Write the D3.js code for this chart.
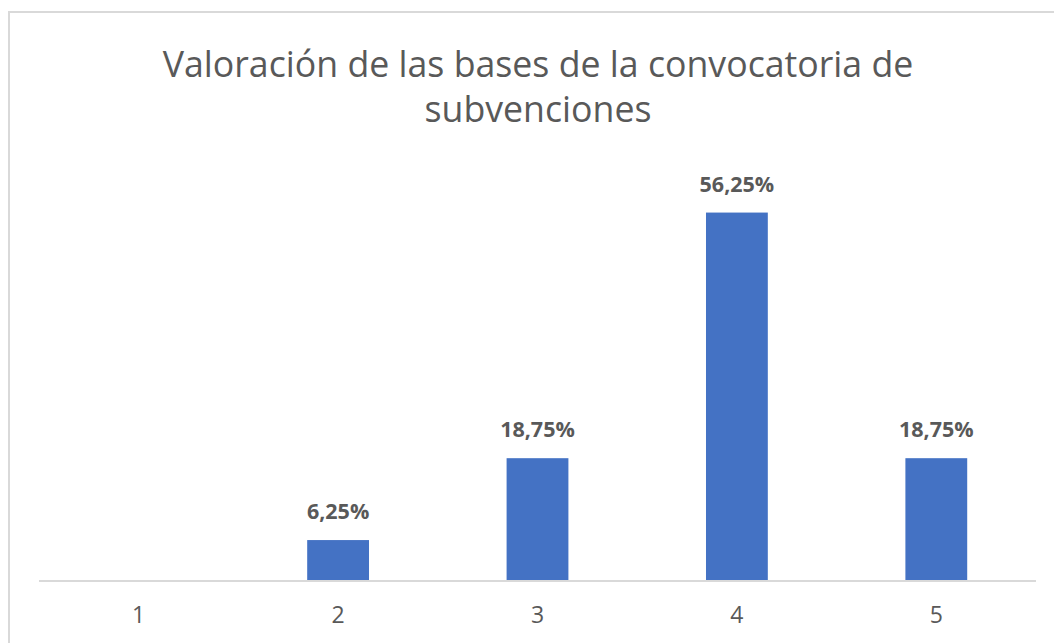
<!DOCTYPE html>
<html><head><meta charset="utf-8">
<script src="https://cdn.jsdelivr.net/npm/d3@7"></script>
<style>body{margin:0;background:#fff;}svg{display:block;}</style>
</head><body>
<svg id="chart" width="1054" height="643"></svg>
<script>
const categories = ["1","2","3","4","5"];
const values = [0, 6.25, 18.75, 56.25, 18.75];
const labels = ["", "6,25%", "18,75%", "56,25%", "18,75%"];
const titleLines = ["Valoración de las bases de la convocatoria de", "subvenciones"];

const svg = d3.select("#chart");
svg.append("rect").attr("x",9).attr("y",12).attr("width",1100).attr("height",700)
  .attr("fill","#fff").attr("stroke","#d9d9d9").attr("stroke-width",2);

const x = d3.scaleBand().domain(categories).range([39,1036]).paddingInner(0.69).paddingOuter(0.345);
const y = d3.scaleLinear().domain([0,60]).range([581,188]);

svg.selectAll(".title").data(titleLines).enter().append("text")
  .attr("x",538).attr("y",(d,i)=>77+i*45).attr("text-anchor","middle")
  .attr("font-family","Open Sans").attr("font-size",35.7).attr("fill","#595959").text(d=>d);

svg.selectAll(".bar").data(values).enter().append("rect")
  .attr("x",(d,i)=>x(categories[i])).attr("width",x.bandwidth())
  .attr("y",d=>y(d)).attr("height",d=>y(0)-y(d)).attr("fill","#4472C4");

svg.selectAll(".lbl").data(values).enter().append("text")
  .attr("x",(d,i)=>x(categories[i])+x.bandwidth()/2).attr("y",d=>y(d)-21)
  .attr("text-anchor","middle").attr("font-family","Open Sans").attr("font-weight","bold")
  .attr("font-size",21.5).attr("fill","#595959").text((d,i)=>labels[i]);

const ax = svg.append("g").attr("transform","translate(0,581)").call(d3.axisBottom(x).tickSize(0).tickPadding(26));
ax.select(".domain").attr("stroke","#d9d9d9").attr("stroke-width",2).attr("d","M39,0H1036");
ax.selectAll("text").attr("font-family","Open Sans").attr("font-size",23).attr("fill","#595959");
</script>
</body></html>
